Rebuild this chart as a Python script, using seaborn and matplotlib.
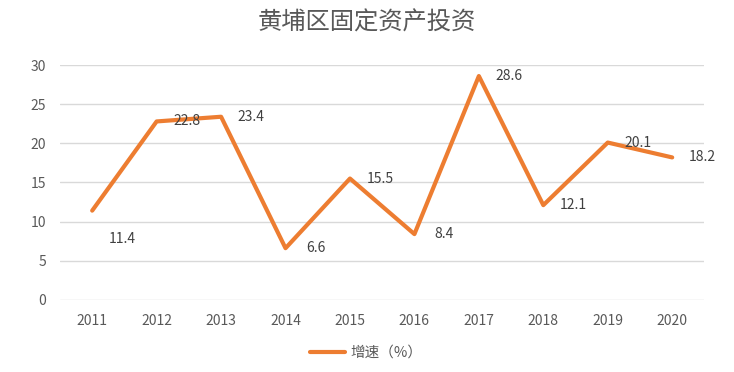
import matplotlib
matplotlib.use('Agg')
import matplotlib.pyplot as plt
import pandas as pd
import seaborn as sns

years = ['2011', '2012', '2013', '2014', '2015', '2016', '2017', '2018', '2019', '2020']
growth = [11.4, 22.8, 23.4, 6.6, 15.5, 8.4, 28.6, 12.1, 20.1, 18.2]
series_name = '增速（%）'
title = '黄埔区固定资产投资'

sns.set_theme(style='white')
plt.rcParams['font.family'] = ['Noto Sans CJK SC', 'DejaVu Sans']

df = pd.DataFrame({'年份': years, '增速': growth})
text_color = '#595959'
line_color = '#ED7D31'

fig = plt.figure(figsize=(7.34, 3.72), dpi=100)
ax = fig.add_axes([0.0817, 0.194, 0.878, 0.631])
ax.yaxis.grid(True, color='#D9D9D9', linewidth=1)
ax.set_axisbelow(True)
sns.lineplot(data=df, x='年份', y='增速', ax=ax, color=line_color, linewidth=3,
             label=series_name, sort=False)

for i, v in enumerate(growth):
    dy = -28 if i == 0 else 0
    ax.annotate(f'{v}', (i, v), xytext=(30, dy), textcoords='offset pixels',
                ha='center', va='center', fontsize=10, color='#404040')

ax.set_xlim(-0.5, len(years) - 0.5)
ax.set_ylim(0, 30)
ax.set_yticks(range(0, 31, 5))
ax.set_xlabel('')
ax.set_ylabel('')
for s in ax.spines.values():
    s.set_visible(False)
ax.tick_params(axis='both', labelsize=10, colors=text_color, length=0)
ax.tick_params(axis='y', pad=10)
ax.tick_params(axis='x', pad=10)

fig.suptitle(title, y=0.975, fontsize=17.5, color=text_color)
ax.legend(loc='upper center', bbox_to_anchor=(0.475, -0.14), frameon=False,
          fontsize=10.5, labelcolor=text_color, handlelength=2.4, handletextpad=0.4)

fig.savefig('out.png', dpi=100)
